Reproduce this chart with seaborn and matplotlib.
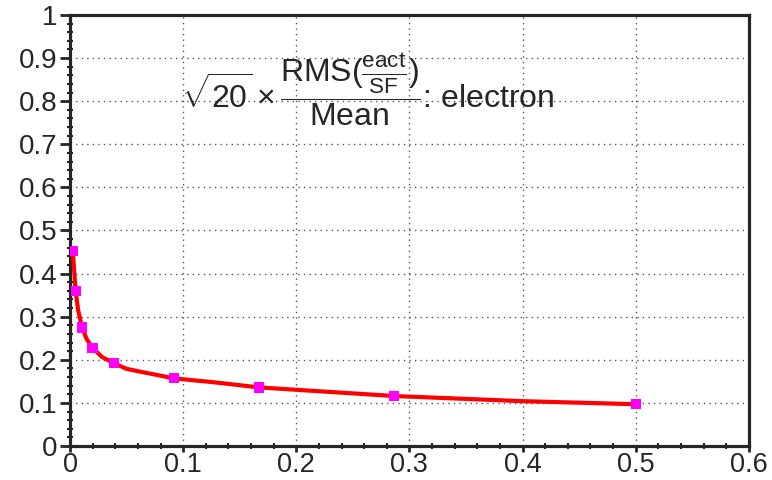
import numpy as np
import pandas as pd
import seaborn as sns
import matplotlib.pyplot as plt
from matplotlib.ticker import MultipleLocator, FuncFormatter

# measured points (markers)
pt_x = [0.0024, 0.005, 0.0106, 0.020, 0.0389, 0.0916, 0.167, 0.2863, 0.500]
pt_y = [0.453, 0.360, 0.275, 0.228, 0.192, 0.157, 0.136, 0.116, 0.097]

# fitted curve
fit_x = [0.0024, 0.005, 0.0071, 0.0106, 0.0147, 0.020, 0.028, 0.0389, 0.050,
         0.0648, 0.0766, 0.0916, 0.1267, 0.167, 0.2863, 0.4006, 0.500]
fit_y = [0.453, 0.360, 0.316, 0.275, 0.248, 0.228, 0.207, 0.192, 0.179,
         0.171, 0.165, 0.157, 0.148, 0.136, 0.116, 0.104, 0.097]

sns.set_style('ticks')
plt.rcParams['font.family'] = ['Liberation Sans', 'DejaVu Sans']
plt.rcParams['mathtext.fontset'] = 'custom'
plt.rcParams['mathtext.rm'] = 'Liberation Sans'
plt.rcParams['mathtext.it'] = 'Liberation Sans'
plt.rcParams['mathtext.bf'] = 'Liberation Sans:bold'

fig = plt.figure(figsize=(7.72, 4.8), dpi=100)
ax = fig.add_axes([0.0907, 0.0708, 0.8793, 0.8980])

pts = pd.DataFrame({'x': pt_x, 'y': pt_y})
fit = pd.DataFrame({'x': fit_x, 'y': fit_y})

sns.lineplot(data=fit, x='x', y='y', color='red', linewidth=3, sort=False, ax=ax, zorder=3)
sns.scatterplot(data=pts, x='x', y='y', marker='s', color='magenta', s=55,
                edgecolor='none', ax=ax, zorder=4)

ax.set_xlim(0, 0.6)
ax.set_ylim(0, 1)
ax.xaxis.set_major_locator(MultipleLocator(0.1))
ax.xaxis.set_minor_locator(MultipleLocator(0.02))
ax.yaxis.set_major_locator(MultipleLocator(0.1))
ax.yaxis.set_minor_locator(MultipleLocator(0.02))
fmt = FuncFormatter(lambda v, p: '%g' % round(v, 2))
ax.xaxis.set_major_formatter(fmt)
ax.yaxis.set_major_formatter(fmt)
ax.set_xlabel('')
ax.set_ylabel('')

ax.tick_params(which='major', direction='out', length=7, width=2, labelsize=20, pad=2)
ax.tick_params(axis='x', which='major', length=4.5, labelsize=19.5, pad=-0.5)
ax.tick_params(which='minor', direction='inout', length=4, width=1.5)
for s in ax.spines.values():
    s.set_linewidth(2.3)
    s.set_visible(True)

ax.grid(True, which='major', linestyle=(0, (1, 3)), color='#555555', linewidth=1)

ax.text(0.098, 0.826,
        r'$\sqrt{20}\times\dfrac{\mathrm{RMS}(\frac{eact}{SF})}{\mathrm{Mean}}$: electron',
        fontsize=23, ha='left', va='center', transform=ax.transData)

fig.savefig('out.png', dpi=100)
